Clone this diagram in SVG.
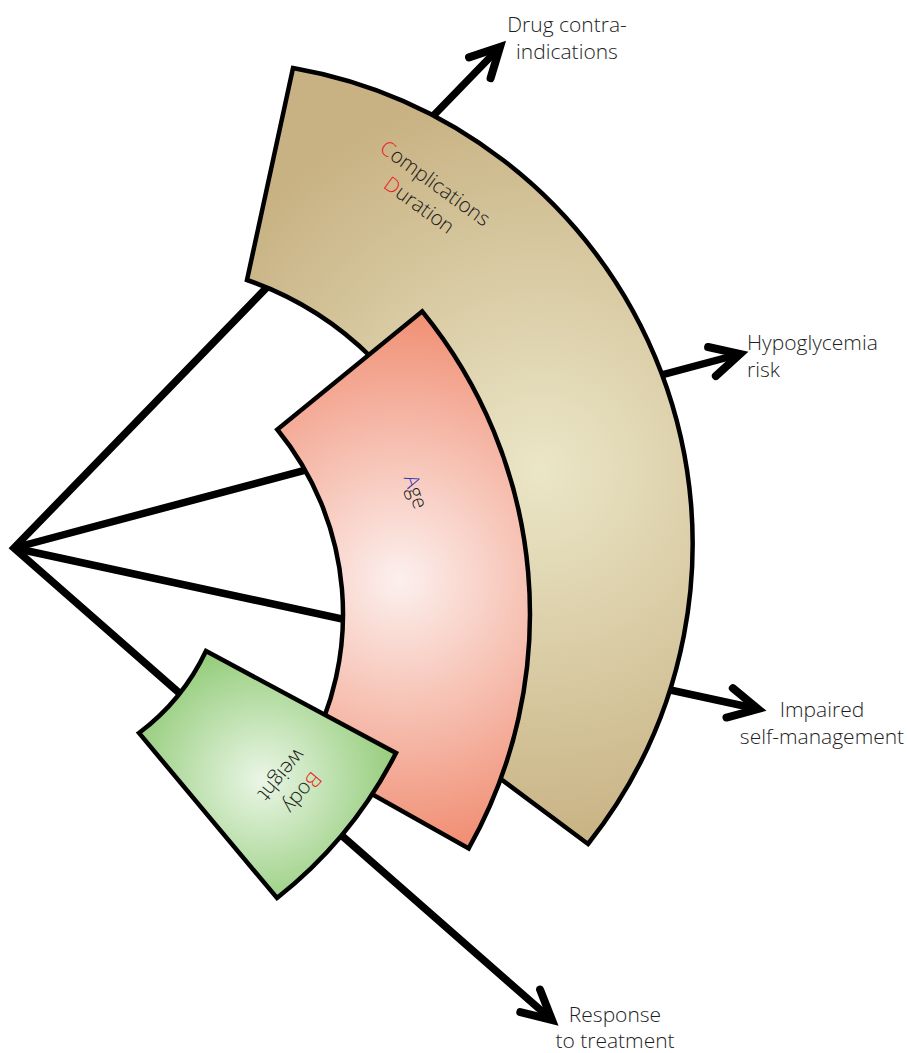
<svg xmlns="http://www.w3.org/2000/svg" width="908" height="1053" viewBox="0 0 908 1053">
  <style>
    .spoke { fill: none; stroke: #000; stroke-width: 7.5; stroke-linecap: butt; stroke-linejoin: miter; stroke-miterlimit: 10; }
    .band { stroke: #000; stroke-width: 4.5; stroke-linejoin: miter; }
    .lbl { font-family: "Open Sans", "Liberation Sans", sans-serif; font-size: 21px; font-weight: 300; fill: #1e1e1e; }
    .in { font-family: "Open Sans", "Liberation Sans", sans-serif; font-size: 20.5px; font-weight: 300; fill: #1a1a1a; text-anchor: middle; }
    .red { fill: #ed1c24; }
    .blue { fill: #3a3aae; }
  </style>
  <defs>
    <marker id="chev" markerUnits="userSpaceOnUse" orient="auto-start-reverse" refX="0" refY="0"
            markerWidth="60" markerHeight="60" viewBox="-40 -30 60 60" overflow="visible">
      <path d="M-29,-15 L0,0 L-29,15" fill="none" stroke="#000" stroke-width="8" stroke-linecap="round" stroke-linejoin="miter"/>
    </marker>
    <radialGradient id="gTan" gradientUnits="userSpaceOnUse" cx="540" cy="470" r="380">
      <stop offset="0" stop-color="#ebe6c7"/>
      <stop offset="1" stop-color="#c8b283"/>
    </radialGradient>
    <radialGradient id="gPink" gradientUnits="userSpaceOnUse" cx="400" cy="580" r="280">
      <stop offset="0" stop-color="#fcf0ee"/>
      <stop offset="1" stop-color="#f08b6f"/>
    </radialGradient>
    <radialGradient id="gGreen" gradientUnits="userSpaceOnUse" cx="262" cy="780" r="150">
      <stop offset="0" stop-color="#eaf6e6"/>
      <stop offset="1" stop-color="#8cc870"/>
    </radialGradient>
  </defs>

  <rect width="908" height="1053" fill="#fff"/>

  <!-- spokes from the hub, running underneath the bands -->
  <g id="connectors">
    <path class="spoke" d="M500,47 L14,548 L552,1020" marker-start="url(#chev)" marker-end="url(#chev)"/>
    <path class="spoke" d="M14,548 L740,354" marker-end="url(#chev)"/>
    <path class="spoke" d="M14,548 L758,709" marker-end="url(#chev)"/>
  </g>

  <!-- outer band -->
  <g id="band-complications">
    <path class="band" fill="url(#gTan)"
          d="M293,68 A483,483 0 0 1 588,844 L490,771 L430,500 L372,358 A330,330 0 0 0 247,280 Z"/>
    <g transform="translate(431,189) rotate(36)">
      <text class="in" x="0" y="0" font-size="21"><tspan class="red">C</tspan>omplications</text>
      <text class="in" x="0" y="27" font-size="21"><tspan class="red">D</tspan>uration</text>
    </g>
  </g>

  <!-- middle band -->
  <g id="band-age">
    <path class="band" fill="url(#gPink)"
          d="M422.2,311.3 A479,479 0 0 1 468.7,848.4 L305.7,756.9 A292,292 0 0 0 277.3,429.5 Z"/>
    <g transform="translate(409,494) rotate(71)">
      <text class="in" x="0" y="0"><tspan class="blue">A</tspan>ge</text>
    </g>
  </g>

  <!-- inner band -->
  <g id="band-bodyweight">
    <path class="band" fill="url(#gGreen)"
          d="M206,651 L396,753 A436,436 0 0 1 277,898 L139,733 A220,220 0 0 0 206,651 Z"/>
    <g transform="translate(297,788) rotate(130)">
      <text class="in" x="0" y="0"><tspan class="red">B</tspan>ody</text>
      <text class="in" x="0" y="27">weight</text>
    </g>
  </g>

  <!-- outcome labels -->
  <g id="label-drug">
    <text class="lbl" x="567" y="32" text-anchor="middle">Drug contra-</text>
    <text class="lbl" x="567" y="59" text-anchor="middle">indications</text>
  </g>
  <g id="label-hypo">
    <text class="lbl" x="747" y="350">Hypoglycemia</text>
    <text class="lbl" x="747" y="377">risk</text>
  </g>
  <g id="label-impaired">
    <text class="lbl" x="822" y="717" text-anchor="middle">Impaired</text>
    <text class="lbl" x="822" y="744" text-anchor="middle">self-management</text>
  </g>
  <g id="label-response">
    <text class="lbl" x="615" y="1022" text-anchor="middle">Response</text>
    <text class="lbl" x="615" y="1048" text-anchor="middle">to treatment</text>
  </g>
</svg>
